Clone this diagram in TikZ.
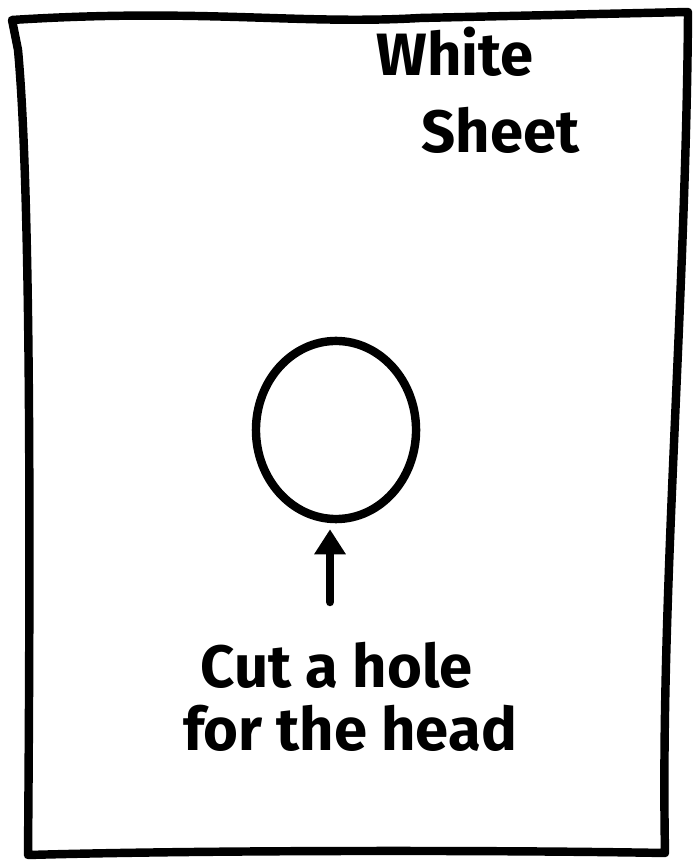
\documentclass[tikz,border=0pt]{standalone}
\usepackage{fontspec}
\setmainfont{Fira Sans}
\usetikzlibrary{arrows.meta,shapes.geometric}
\begin{document}
\begin{tikzpicture}[x=0.01cm,y=-0.01cm,
  ink/.style={line width=2.4pt,line cap=round,line join=round},
  hand/.style={font=\fontsize{17}{20}\selectfont\bfseries,inner sep=0pt,align=left}]
\useasboundingbox (0,0) rectangle (693,862);
\coordinate (tl) at (12,20);
\coordinate (tr) at (688,12);
\coordinate (br) at (665,853);
\coordinate (bl) at (28,855);
\draw[ink] (tl) .. controls (200,8) and (300,25) .. (420,18) -- (tr)
  .. controls (686,300) and (660,600) .. (br)
  .. controls (500,850) and (200,850) .. (bl)
  .. controls (30,600) and (32,200) .. (18,50) -- cycle;
\node[ink,draw,ellipse,minimum width=1.6cm,minimum height=1.78cm,inner sep=0pt] (hole) at (336,430) {};
\node[hand] (title) at (478,90) {White\\[2pt]\hspace{0.75em}Sheet};
\node[hand] (label) at (350,697) {\hspace{0.3em}Cut a hole\\[-2pt]for the head};
\coordinate (tail) at (330,602);
\draw[ink,-{Triangle[length=0.25cm,width=0.3cm]}] (tail) -- ([yshift=-0.06cm]hole.south -| tail);
\end{tikzpicture}
\end{document}
